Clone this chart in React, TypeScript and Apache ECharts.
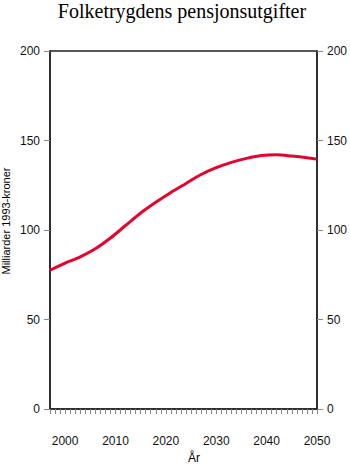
import React, { useEffect, useRef } from "react";
import * as echarts from "echarts";

const years = [1997, 2000, 2003, 2006, 2009, 2012, 2015, 2018, 2021, 2024, 2027, 2030, 2033, 2036, 2039, 2042, 2045, 2048, 2050];
const spending = [77.5, 81.5, 85, 89.5, 95.5, 102.5, 109.5, 115.5, 121, 126, 131, 134.8, 137.8, 140, 141.6, 142, 141.3, 140.4, 139.6];
const xLabels = [2000, 2010, 2020, 2030, 2040, 2050];
const xTicks: number[] = [];
for (let y = 1997; y <= 2050; y++) xTicks.push(y);
const yTicks = [0, 50, 100, 150, 200];

const title = "Folketrygdens pensjonsutgifter";
const yName = "Milliarder 1993-kroner";
const xName = "År";

export default function App() {
  const ref = useRef<HTMLDivElement>(null);
  useEffect(() => {
    document.body.style.margin = "0";
    const chart = echarts.init(ref.current!, null, { renderer: "svg" });
    const font = "Liberation Sans, Arial, sans-serif";
    const yAxisBase = {
      type: "value",
      min: yTicks[0],
      max: yTicks[yTicks.length - 1],
      interval: 50,
      splitLine: { show: false },
      axisLine: { show: true, lineStyle: { color: "#222", width: 1.5 } },
      axisTick: { show: true, length: 6, lineStyle: { color: "#888" } },
      axisLabel: { color: "#111", fontSize: 12, fontFamily: font, margin: 10 },
    };
    chart.setOption({
      animation: false,
      backgroundColor: "#fff",
      grid: { left: 50, right: 30, top: 51, bottom: 57, show: true, borderColor: "#222", borderWidth: 1.5 },
      xAxis: {
        type: "value",
        min: 1997,
        max: 2050,
        splitLine: { show: false },
        axisLine: { show: true, lineStyle: { color: "#222", width: 1.5 } },
        axisTick: { show: true, length: 5, customValues: xTicks, lineStyle: { color: "#888" } },
        axisLabel: {
          customValues: xLabels,
          formatter: (v: number) => String(v),
          color: "#111",
          fontSize: 12,
          fontFamily: font,
          margin: 26,
        },
      },
      yAxis: [
        { ...yAxisBase, position: "left" },
        { ...yAxisBase, position: "right" },
      ],
      series: [
        {
          type: "line",
          data: years.map((y, i) => [y, spending[i]]),
          smooth: 0.3,
          showSymbol: false,
          lineStyle: { color: "#e4032e", width: 3 },
        },
      ],
      graphic: [
        {
          type: "text",
          x: 182,
          y: 11,
          style: { text: title, font: "20px 'Liberation Serif', 'Times New Roman', serif", fill: "#000", align: "center", verticalAlign: "middle" },
        },
        {
          type: "text",
          x: 6,
          y: 221,
          rotation: Math.PI / 2,
          style: { text: yName, font: "11px 'Liberation Sans', Arial, sans-serif", fill: "#000", align: "center", verticalAlign: "middle" },
        },
        {
          type: "text",
          x: 194,
          y: 458,
          style: { text: xName, font: "12px 'Liberation Sans', Arial, sans-serif", fill: "#000", align: "center", verticalAlign: "middle" },
        },
      ],
    });
    return () => chart.dispose();
  }, []);
  return <div ref={ref} style={{ width: 350, height: 466 }} />;
}
